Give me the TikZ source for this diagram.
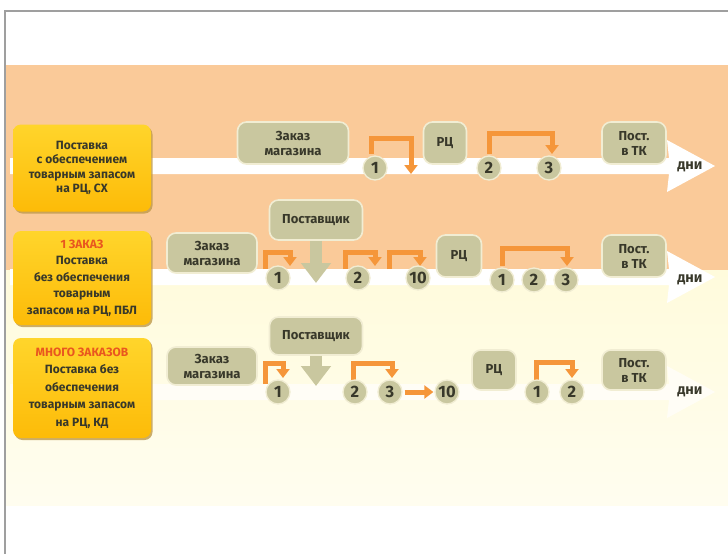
\documentclass[tikz,border=0pt]{standalone}
\usepackage{fontspec}
\setmainfont{Fira Sans}
\usetikzlibrary{arrows.meta, shadows}

\definecolor{peach}{HTML}{FACA99}
\definecolor{paleyel}{HTML}{FFFBDC}
\definecolor{goldtop}{HTML}{FFD52B}
\definecolor{goldbot}{HTML}{FDBB08}
\definecolor{goldshadow}{HTML}{BE9A4A}
\definecolor{khaki}{HTML}{C9C79F}
\definecolor{khakiline}{HTML}{F1EDD3}
\definecolor{ink}{HTML}{38382A}
\definecolor{floworange}{HTML}{F5963A}
\definecolor{redorange}{HTML}{E9561F}

\tikzset{
  lbl/.style={top color=goldtop, bottom color=goldbot, rounded corners=8pt,
    minimum width=138pt, align=center, text=ink, inner sep=1pt,
    drop shadow={shadow xshift=1.5pt, shadow yshift=-2pt, fill=goldshadow, opacity=0.8}},
  evbox/.style={fill=khaki, draw=khakiline, line width=1.6pt, rounded corners=9pt,
    align=center, text=ink, font=\bfseries\fontsize{13}{15}\selectfont,
    minimum height=42pt, inner sep=1pt},
  day/.style={circle, fill=khaki, draw=khakiline, line width=1.3pt, minimum size=24pt,
    inner sep=0pt, text=ink, font=\bfseries\fontsize{16.5}{16.5}\selectfont},
  unit/.style={text=ink, font=\bfseries\fontsize{14.5}{14.5}\selectfont},
  flow/.style={floworange, line width=5pt, -{Triangle[width=13pt,length=9pt]}},
  feed/.style={khaki, line width=12pt, -{Triangle[width=29pt,length=20pt]}}
}

\begin{document}
\begin{tikzpicture}[x=1pt, y=-1pt]
    \useasboundingbox (0,0) rectangle (728,554);

    % Background bands
    \fill[white] (0,0) rectangle (728,554);
    \fill[peach] (5,65) rectangle (728,270);
    \shade[top color=paleyel, bottom color=paleyel!45!white] (5,270) rectangle (728,505);
    \draw[gray!75, line width=1.3pt] (5,554) -- (5,11) -- (728,11);

    % Time axes
    \foreach \y/\o in {166/1, 277/1, 392/0.65}
        \fill[white, opacity=\o] (10,\y-8) -- (669,\y-8) -- (667,\y-26) -- (715,\y)
            -- (667,\y+26) -- (669,\y+8) -- (10,\y+8) -- cycle;

    % Row 1
    \node[lbl, minimum height=87pt, font=\bfseries\fontsize{12}{14.5}\selectfont] (l1) at (82,168)
        {Поставка\\с обеспечением\\товарным запасом\\на РЦ, СХ};
    \node[evbox, minimum width=111pt] (z1) at (293,143) {Заказ\\магазина};
    \node[evbox, minimum width=43pt] (r1) at (445,143) {РЦ};
    \node[evbox, minimum width=64pt] (p1) at (634,143) {Пост.\\в ТК};
    \node[unit] (n1) at (690,167) {дни};

    % Row 2
    \node[lbl, minimum height=94pt, font=\bfseries\fontsize{12}{16.5}\selectfont] (l2) at (82,278)
        {\textcolor{redorange}{1 ЗАКАЗ}\\Поставка\\без обеспечения\\товарным\\запасом на РЦ, ПБЛ};
    \node[evbox, minimum width=90pt, minimum height=40pt] (z2) at (212,253) {Заказ\\магазина};
    \node[evbox, minimum width=93pt, minimum height=40pt] (s2) at (316,220) {Поставщик};
    \node[evbox, minimum width=45pt] (r2) at (459,256) {РЦ};
    \node[evbox, minimum width=64pt] (p2) at (634,256) {Пост.\\в ТК};
    \node[unit] (n2) at (690,280) {дни};

    % Row 3
    \node[lbl, minimum height=100pt, font=\bfseries\fontsize{12}{17.5}\selectfont] (l3) at (82,388)
        {\textcolor{redorange}{МНОГО ЗАКАЗОВ}\\Поставка без\\обеспечения\\товарным запасом\\на РЦ, КД};
    \node[evbox, minimum width=90pt, minimum height=38pt] (z3) at (212,366) {Заказ\\магазина};
    \node[evbox, minimum width=93pt, minimum height=38pt] (s3) at (316,336) {Поставщик};
    \node[evbox, minimum width=44pt, minimum height=40pt] (r3) at (494,370) {РЦ};
    \node[evbox, minimum width=64pt, minimum height=40pt] (p3) at (634,370) {Пост.\\в ТК};
    \node[unit] (n3) at (690,392) {дни};

    % Supplier deliveries
    \coordinate (s2end) at (316,283);
    \coordinate (s3end) at (316,386);
    \draw[feed] (s2) -- (s2end);
    \draw[feed] (s3) -- (s3end);

    % Hops between days
    \coordinate (f11) at (371,154); \coordinate (t11) at (411,174);
    \coordinate (f12) at (489,154); \coordinate (t12) at (552,154);
    \coordinate (f21) at (265,269); \coordinate (t21) at (290,266);
    \coordinate (f22) at (345,269); \coordinate (t22) at (375,266);
    \coordinate (f23) at (389,269); \coordinate (t23) at (420,266);
    \coordinate (f24) at (502,266); \coordinate (t24) at (567,266);
    \coordinate (f31) at (265,384); \coordinate (t31) at (283,378);
    \coordinate (f32) at (353,381); \coordinate (t32) at (392,378);
    \coordinate (f33) at (536,380); \coordinate (t33) at (572,378);
    \foreach \f/\t/\h in {f11/t11/16, f12/t12/21, f21/t21/17, f22/t22/17, f23/t23/17,
                          f24/t24/18, f31/t31/21, f32/t32/18, f33/t33/18}
        \draw[flow] (\f) -- ++(0,-\h) -| (\t);

    % Days
    \node[day] (d11) at (375,168) {1};
    \node[day] (d12) at (489,168) {2};
    \node[day] (d13) at (549,168) {3};
    \node[day] (d21) at (278,278) {1};
    \node[day] (d22) at (358,278) {2};
    \node[day] (d23) at (418,278) {10};
    \node[day] (d24) at (502,280) {1};
    \node[day] (d25) at (534,280) {2};
    \node[day] (d26) at (566,280) {3};
    \node[day] (d31) at (278,392) {1};
    \node[day] (d32) at (355,392) {2};
    \node[day] (d33) at (390,392) {3};
    \node[day] (d34) at (447,392) {10};
    \node[day] (d35) at (537,392) {1};
    \node[day] (d36) at (572,392) {2};
    \draw[flow, shorten <=2pt, shorten >=1pt] (d33) -- (d34);
\end{tikzpicture}
\end{document}
